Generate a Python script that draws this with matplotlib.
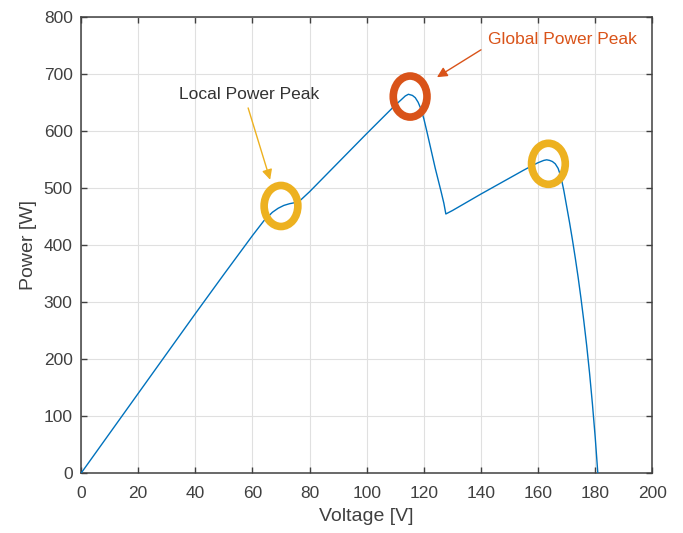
import matplotlib.pyplot as plt
from matplotlib.patches import Ellipse

plt.rcParams["font.family"] = ["Liberation Sans", "DejaVu Sans"]

# P-V curve
voltage = [0, 10, 20, 30, 40, 50, 60, 64, 67, 69, 71, 73, 75, 77, 80, 90, 100,
           105, 108, 110, 112, 113.5, 114.6, 116, 117, 118, 119, 120, 121, 122,
           123, 124, 125, 126, 127, 127.7, 130, 140, 150, 155, 158, 160, 162,
           163, 164, 165, 166, 167, 168, 169, 170, 171, 172, 173, 174, 175, 176,
           177, 178, 179, 180, 180.9]
power = [0, 70, 140, 210, 280, 349, 417, 443, 458, 465, 470, 473, 475, 480, 494,
         545, 596, 621, 636, 646, 655, 662, 665, 663, 659, 651, 639, 622, 601,
         579, 557, 535, 515, 495, 474, 455, 461, 490, 518, 532, 540, 545, 549,
         550, 549, 547, 543, 535, 520, 496, 468, 440, 410, 378, 344, 307, 267,
         224, 176, 122, 62, 0]

# marked peaks
local_peaks_v = [70, 163.6]
local_peaks_p = [469, 543]
global_peak_v = 115.2
global_peak_p = 661

line_color = "#0072BD"
local_color = "#EDB120"
global_color = "#D95319"
axis_color = "#404040"

fig = plt.figure(figsize=(6.83, 5.33), dpi=100)
ax = fig.add_axes([0.1186, 0.112, 0.8366, 0.8555])

ax.plot(voltage, power, color=line_color, linewidth=1.0, zorder=3)

for v, p in zip(local_peaks_v, local_peaks_p):
    ax.add_patch(Ellipse((v, p), 11.8, 72, fill=False, edgecolor=local_color,
                         linewidth=5.5, zorder=4))
ax.add_patch(Ellipse((global_peak_v, global_peak_p), 11.8, 72, fill=False,
                     edgecolor=global_color, linewidth=5.5, zorder=4))

# annotations
ax.text(59, 664, "Local Power Peak", ha="center", va="center", fontsize=12.5,
        color="#333333")
ax.annotate("", xy=(66.2, 515), xytext=(58.5, 641),
            arrowprops=dict(arrowstyle="-|>", color=local_color, lw=1.0,
                            mutation_scale=15, shrinkA=0, shrinkB=0))
ax.text(142.5, 761, "Global Power Peak", ha="left", va="center", fontsize=12.5,
        color=global_color)
ax.annotate("", xy=(124.6, 695), xytext=(140, 743),
            arrowprops=dict(arrowstyle="-|>", color=global_color, lw=1.0,
                            mutation_scale=15, shrinkA=0, shrinkB=0))

ax.set_xlim(0, 200)
ax.set_ylim(0, 800)
ax.set_xticks(range(0, 201, 20))
ax.set_yticks(range(0, 801, 100))
ax.grid(True, color="#e0e0e0", linewidth=0.8)
ax.set_axisbelow(True)
ax.tick_params(direction="in", top=True, right=True, labelsize=12.5,
               colors=axis_color, length=4, width=1.0)
ax.tick_params(axis="x", pad=9)
ax.tick_params(axis="y", pad=6)
for s in ax.spines.values():
    s.set_color(axis_color)
    s.set_linewidth(1.1)
ax.set_xlabel("Voltage [V]", fontsize=14, color=axis_color, labelpad=5)
ax.set_ylabel("Power [W]", fontsize=14, color=axis_color, labelpad=5)

fig.savefig("out.png", dpi=100)
